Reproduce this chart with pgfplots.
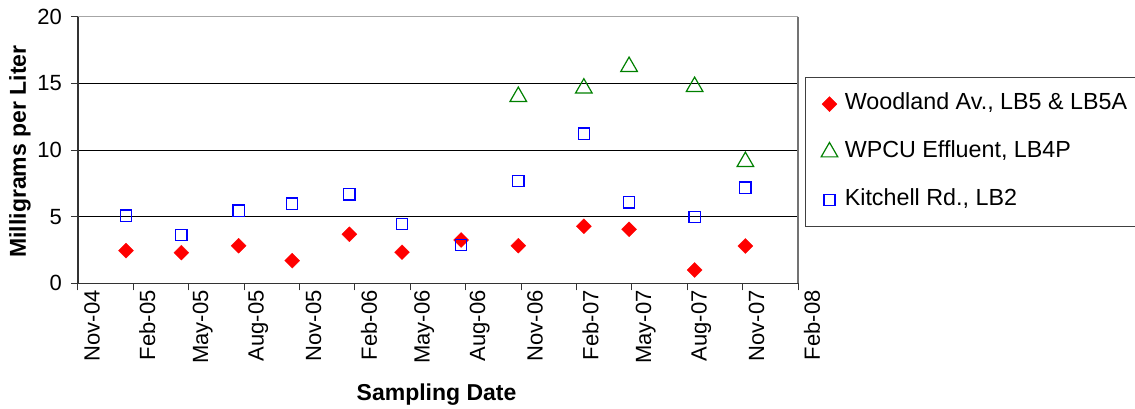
\documentclass[border=0pt]{standalone}
\usepackage{fontspec}
\setmainfont{Liberation Sans}
\usepackage{pgfplots}
\pgfplotsset{compat=1.18}
\usepackage{pgfplotstable}

% x = months after 1 Nov 2004
\pgfplotstableread{
x     y
2.6   2.45
5.6   2.30
8.7   2.82
11.6  1.70
14.7  3.68
17.55 2.33
20.75 3.25
23.85 2.82
27.4  4.28
29.85 4.05
33.4  1.00
36.15 2.80
}\woodland

\pgfplotstableread{
x     y
23.85 14.00
27.4  14.63
29.85 16.25
33.4  14.75
36.15  9.12
}\wpcu

\pgfplotstableread{
x     y
2.6   5.07
5.6   3.62
8.7   5.45
11.6  5.97
14.7  6.68
17.55 4.45
20.75 2.87
23.85 7.67
27.4  11.22
29.85 6.08
33.4  4.97
36.15 7.17
}\kitchell

\definecolor{mkred}{RGB}{255,0,0}
\definecolor{mkgreen}{RGB}{0,128,0}
\definecolor{mkblue}{RGB}{0,0,255}

\begin{document}
\begin{tikzpicture}
\path[use as bounding box] (-78pt,-124.7pt) rectangle (1057pt,283.3pt);
\begin{axis}[
  name=ax,
  scale only axis,
  width=720pt, height=266.6pt,
  xmin=0, xmax=39, ymin=0, ymax=20,
  axis x line*=bottom, axis y line*=left,
  axis line style={line width=1.3pt, draw=black!80},
  xtick={0,3,...,39},
  xticklabels={Nov-04,Feb-05,May-05,Aug-05,Nov-05,Feb-06,May-06,Aug-06,Nov-06,Feb-07,May-07,Aug-07,Nov-07,Feb-08},
  ytick={0,5,...,20},
  tick align=outside,
  major tick length=7pt,
  tick style={line width=1pt, black!80},
  ymajorgrids,
  grid style={line width=1pt, black},
  /pgf/number format/assume math mode=true,
  tick label style={font=\fontsize{22}{26}\selectfont},
  xticklabel style={rotate=90, anchor=east, inner sep=0pt, yshift=-14pt},
  yticklabel style={anchor=east, inner sep=0pt, xshift=-9pt},
  xlabel={Sampling Date},
  ylabel={Milligrams per Liter},
  label style={font=\fontsize{23}{27}\selectfont\bfseries},
  xlabel style={at={(axis description cs:0.498,-0.416)}, anchor=center},
  ylabel style={at={(axis description cs:-0.0806,0.494)}, anchor=center},
  clip=false,
  legend style={
    at={(axis description cs:1.0097,0.7736)}, anchor=north west,
    draw=black!75, line width=1pt,
    font=\fontsize{23.3}{27}\selectfont,
    inner xsep=8pt, inner ysep=15pt,
    row sep=25pt, column sep=7pt,
    nodes={inner sep=0pt, text height=17pt, text depth=6pt},
  },
  legend cell align=left,
  legend image code/.code={%
    \path[draw=none, fill=none] (0pt,-1pt) -- (24pt,1pt);
    \draw[mark repeat=2,mark phase=2,#1] plot coordinates {(0pt,0pt) (16pt,0pt) (32pt,0pt)};},
]
\addplot[only marks, mark=square*, mark size=5.3pt, mark options={rotate=45, fill=mkred, draw=mkred, line width=0.3pt}] table {\woodland};
\addlegendentry{Woodland Av., LB5 \& LB5A}
\addplot[only marks, mark=triangle, mark size=9.6pt, mark options={draw=mkgreen, line width=1.2pt, fill=none}] table {\wpcu};
\addlegendentry{WPCU Effluent, LB4P}
\addplot[only marks, mark=square, mark size=5.6pt, mark options={draw=mkblue, line width=1.3pt, fill=none}] table {\kitchell};
\addlegendentry{Kitchell Rd., LB2}
\end{axis}
\draw[line width=1.3pt, black!35] (ax.north west) -- (ax.north east);
\draw[line width=1.3pt, black!55] (ax.north east) -- (ax.south east);
\end{tikzpicture}
\end{document}
